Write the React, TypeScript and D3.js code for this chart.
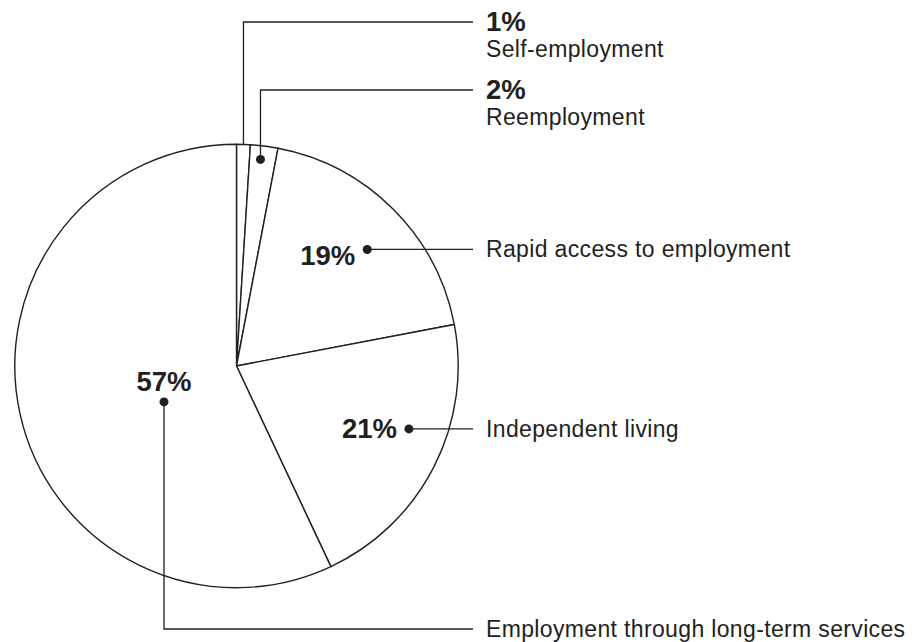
import React from "react";
import * as d3 from "d3";

const categories = [
  "Self-employment",
  "Reemployment",
  "Rapid access to employment",
  "Independent living",
  "Employment through long-term services",
];
const values = [1, 2, 19, 21, 57];
const pctLabels = ["1%", "2%", "19%", "21%", "57%"];

// layout of the leader lines (position within slice / radius fraction)
const anchorT = [0.5, 0.42, 0.548, 0.408, 0.433];
const anchorR = [1.0, 0.938, 0.79, 0.828, 0.365];
const showDot = [false, true, true, true, true];
// leader type: "up" goes up then right, "right" goes straight right, "down" goes down then right
const leaderType = ["up", "up", "right", "right", "down"];
const leaderY = [22, 90, null, null, 629];

const W = 919;
const H = 642;
const cx = 236.5;
const cy = 366;
const R = 221.7;
const lineEndX = 473;
const textX = 486;
const FONT = "'Liberation Sans', Arial, Helvetica, sans-serif";
const INK = "#231f20";
const NAME_SIZE = 23;
const NAME_LS = 0.35;
const PCT_SIZE = 27.5;

export default function App() {
  const pie = d3
    .pie<number>()
    .sort(null)
    .value((d) => d)
    .startAngle(0)
    .endAngle(2 * Math.PI);
  const arcs = pie(values);
  const arc = d3.arc<d3.PieArcDatum<number>>().innerRadius(0).outerRadius(R);

  return (
    <svg
      width={W}
      height={H}
      viewBox={`0 0 ${W} ${H}`}
      style={{ position: "absolute", left: 0, top: 0, background: "#fff" }}
    >
      <g transform={`translate(${cx},${cy})`}>
        {arcs.map((a, i) => (
          <path
            key={i}
            d={arc(a) || ""}
            fill="#fff"
            stroke={INK}
            strokeWidth={1.4}
            strokeLinejoin="round"
          />
        ))}
      </g>
      {arcs.map((a, i) => {
        const ang = a.startAngle + (a.endAngle - a.startAngle) * anchorT[i];
        const r = R * anchorR[i];
        const px = cx + r * Math.sin(ang);
        const py = cy - r * Math.cos(ang);
        const type = leaderType[i];
        let pts: [number, number][] = [];
        if (type === "up" || type === "down") {
          pts = [
            [px, py],
            [px, leaderY[i] as number],
            [lineEndX, leaderY[i] as number],
          ];
        } else {
          pts = [
            [px, py],
            [lineEndX, py],
          ];
        }
        const line = d3.line()(pts) || "";
        const items: React.ReactNode[] = [
          <path key="l" d={line} fill="none" stroke={INK} strokeWidth={1.3} />,
        ];
        if (showDot[i]) {
          items.push(<circle key="d" cx={px} cy={py} r={4.5} fill={INK} />);
        }
        if (type === "up") {
          const ly = leaderY[i] as number;
          items.push(
            <text
              key="p"
              x={textX}
              y={ly + 9}
              fontFamily={FONT}
              fontWeight="bold"
              fontSize={PCT_SIZE}
              fill={INK}
            >
              {pctLabels[i]}
            </text>,
            <text
              key="n"
              x={textX}
              y={ly + 35}
              fontFamily={FONT}
              fontSize={NAME_SIZE}
              letterSpacing={NAME_LS}
              fill={INK}
            >
              {categories[i]}
            </text>
          );
        } else if (type === "right") {
          const pOff = i === 2 ? 16 : 9;
          items.push(
            <text
              key="p"
              x={px - 12}
              y={py + pOff}
              textAnchor="end"
              fontFamily={FONT}
              fontWeight="bold"
              fontSize={PCT_SIZE}
              fill={INK}
            >
              {pctLabels[i]}
            </text>,
            <text
              key="n"
              x={textX}
              y={py + 8}
              fontFamily={FONT}
              fontSize={NAME_SIZE}
              letterSpacing={NAME_LS}
              fill={INK}
            >
              {categories[i]}
            </text>
          );
        } else {
          const ly = leaderY[i] as number;
          items.push(
            <text
              key="p"
              x={px}
              y={py - 11}
              textAnchor="middle"
              fontFamily={FONT}
              fontWeight="bold"
              fontSize={PCT_SIZE}
              fill={INK}
            >
              {pctLabels[i]}
            </text>,
            <text
              key="n"
              x={textX}
              y={ly + 8}
              fontFamily={FONT}
              fontSize={NAME_SIZE}
              letterSpacing={NAME_LS}
              fill={INK}
            >
              {categories[i]}
            </text>
          );
        }
        return <g key={i}>{items}</g>;
      })}
    </svg>
  );
}
